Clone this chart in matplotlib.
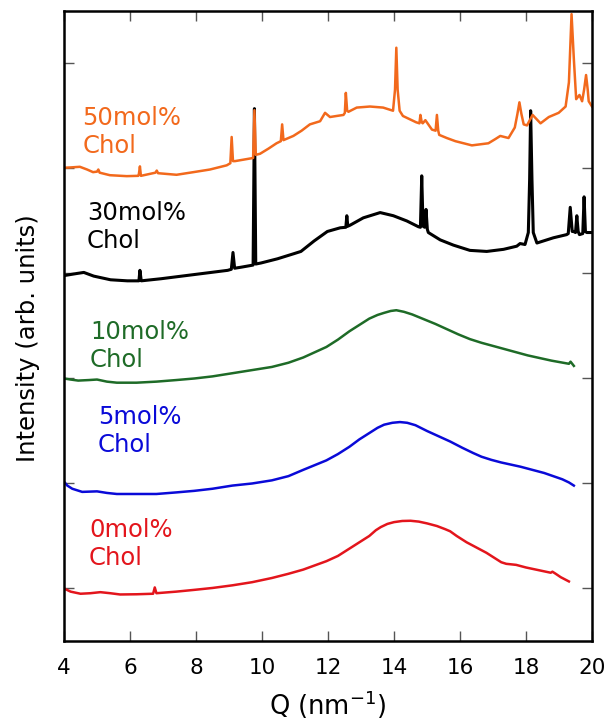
import matplotlib
matplotlib.use("Agg")
import matplotlib.pyplot as plt

# ---- data ----
q_0 = [4.0, 4.2, 4.5, 4.8, 5.1, 5.4, 5.7, 6.2, 6.7, 6.75, 6.8, 7.4, 7.95, 8.5, 9.1, 9.7,
       10.3, 10.8, 11.25, 11.6, 11.95, 12.3, 12.65, 12.95, 13.25, 13.45, 13.6, 13.8, 14.0,
       14.25, 14.5, 14.75, 15.0, 15.3, 15.55, 15.7, 15.9, 16.2, 16.5, 16.8, 17.1, 17.25,
       17.4, 17.7, 18.0, 18.3, 18.6, 18.75, 18.8, 18.9, 19.05, 19.3]
i_0 = [0.0, -0.03, -0.05, -0.045, -0.035, -0.045, -0.057, -0.055, -0.05, 0.01, -0.045,
       -0.03, -0.013, 0.005, 0.03, 0.06, 0.1, 0.14, 0.18, 0.22, 0.26, 0.31, 0.38, 0.44, 0.5,
       0.555, 0.585, 0.615, 0.632, 0.643, 0.645, 0.637, 0.62, 0.595, 0.565, 0.545, 0.5,
       0.44, 0.39, 0.34, 0.28, 0.25, 0.235, 0.225, 0.2, 0.18, 0.16, 0.15, 0.16, 0.14, 0.108,
       0.067]

q_5 = [4.02, 4.1, 4.25, 4.55, 5.0, 5.3, 5.6, 6.2, 6.8, 7.4, 7.95, 8.5, 9.1, 9.7, 10.3, 10.8,
       11.25, 11.6, 11.95, 12.3, 12.65, 12.95, 13.25, 13.5, 13.7, 13.95, 14.18, 14.4, 14.65,
       15.0, 15.35, 15.7, 16.07, 16.4, 16.65, 16.95, 17.25, 17.83, 18.55, 19.1, 19.3, 19.45]
i_5 = [1.01, 0.98, 0.95, 0.92, 0.925, 0.91, 0.90, 0.90, 0.90, 0.915, 0.93, 0.95, 0.98, 1.0,
       1.03, 1.07, 1.13, 1.175, 1.22, 1.28, 1.35, 1.42, 1.48, 1.53, 1.56, 1.578, 1.585,
       1.578, 1.555, 1.50, 1.45, 1.40, 1.34, 1.29, 1.255, 1.225, 1.2, 1.16, 1.10, 1.04,
       1.01, 0.98]

q_10 = [4.0, 4.2, 4.43, 4.75, 5.0, 5.3, 5.6, 6.2, 6.8, 7.4, 7.95, 8.5, 9.1, 9.7, 10.3, 10.8,
        11.25, 11.6, 11.95, 12.3, 12.65, 12.95, 13.25, 13.5, 13.7, 13.9, 14.07, 14.3, 14.55,
        14.9, 15.25, 15.6, 15.95, 16.3, 16.65, 17.0, 17.35, 18.05, 18.77, 19.3, 19.35, 19.45]
i_10 = [2.0, 1.99, 1.98, 1.985, 1.99, 1.97, 1.96, 1.96, 1.97, 1.985, 2.0, 2.02, 2.05, 2.08,
        2.11, 2.15, 2.2, 2.25, 2.3, 2.37, 2.45, 2.51, 2.57, 2.605, 2.625, 2.643, 2.65, 2.635,
        2.61, 2.565, 2.52, 2.47, 2.42, 2.375, 2.34, 2.31, 2.28, 2.22, 2.17, 2.14, 2.16, 2.12]

q_30 = [4.0, 4.39, 4.6, 4.9, 5.41, 5.92, 6.27, 6.3, 6.34, 6.94, 7.95, 8.96, 9.07, 9.12,
        9.17, 9.37, 9.73, 9.77, 9.81, 9.97, 10.47, 10.98, 11.18, 11.58, 11.98, 12.37, 12.54,
        12.57, 12.6, 12.67, 13.07, 13.58, 13.98, 14.39, 14.74, 14.8, 14.84, 14.88, 14.93,
        14.97, 15.01, 15.04, 15.4, 15.8, 16.3, 16.81, 17.32, 17.72, 17.82, 17.97, 18.07,
        18.11, 18.14, 18.18, 18.22, 18.33, 18.83, 19.23, 19.28, 19.34, 19.4, 19.44, 19.5,
        19.54, 19.58, 19.62, 19.72, 19.76, 19.8, 19.84, 20.0]
i_30 = [2.98, 3.0, 3.01, 2.975, 2.94, 2.93, 2.93, 3.03, 2.93, 2.95, 2.99, 3.03, 3.04, 3.2,
        3.05, 3.06, 3.08, 4.57, 3.09, 3.10, 3.14, 3.19, 3.21, 3.31, 3.40, 3.435, 3.44, 3.55,
        3.45, 3.46, 3.53, 3.58, 3.55, 3.50, 3.445, 3.44, 3.93, 3.45, 3.44, 3.61, 3.42, 3.39,
        3.32, 3.27, 3.22, 3.21, 3.23, 3.26, 3.285, 3.276, 3.39, 3.9, 4.55, 3.9, 3.39, 3.29,
        3.34, 3.37, 3.38, 3.63, 3.40, 3.40, 3.39, 3.55, 3.40, 3.37, 3.38, 3.73, 3.40, 3.39,
        3.39]

q_50 = [4.0, 4.2, 4.48, 4.7, 4.88, 5.0, 5.04, 5.08, 5.39, 5.9, 6.25, 6.27, 6.3, 6.33, 6.77,
        6.81, 6.85, 7.41, 7.92, 8.42, 8.93, 9.04, 9.08, 9.12, 9.18, 9.64, 9.73, 9.77, 9.81,
        9.94, 10.2, 10.44, 10.57, 10.61, 10.65, 10.95, 11.2, 11.45, 11.76, 11.91, 12.06, 12.26,
        12.47, 12.51, 12.54, 12.58, 12.62, 12.87, 13.27, 13.67, 13.97, 14.03, 14.07, 14.11,
        14.17, 14.27, 14.67, 14.77, 14.8, 14.84, 14.87, 14.95, 15.15, 15.26, 15.3, 15.34,
        15.37, 15.6, 15.86, 16.36, 16.86, 17.07, 17.22, 17.47, 17.66, 17.74, 17.8, 17.86,
        17.93, 18.03, 18.2, 18.44, 18.69, 18.99, 19.2, 19.3, 19.38, 19.45, 19.52, 19.62,
        19.7, 19.76, 19.82, 19.87, 19.9, 20.0]
i_50 = [4.007, 4.01, 4.016, 3.99, 3.965, 3.97, 3.99, 3.96, 3.936, 3.927, 3.93, 3.95, 4.02,
        3.93, 3.96, 3.98, 3.955, 3.94, 3.965, 3.99, 4.03, 4.05, 4.30, 4.07, 4.07, 4.095, 4.10,
        4.555, 4.13, 4.14, 4.19, 4.24, 4.26, 4.42, 4.27, 4.31, 4.36, 4.42, 4.45, 4.53, 4.49,
        4.50, 4.51, 4.53, 4.72, 4.55, 4.54, 4.58, 4.59, 4.58, 4.55, 4.75, 5.15, 4.75, 4.55,
        4.50, 4.44, 4.43, 4.51, 4.44, 4.43, 4.46, 4.37, 4.36, 4.51, 4.36, 4.32, 4.29, 4.26,
        4.22, 4.24, 4.28, 4.31, 4.29, 4.39, 4.52, 4.63, 4.52, 4.42, 4.41, 4.51, 4.43, 4.49,
        4.53, 4.59, 4.82, 5.47, 5.04, 4.66, 4.70, 4.64, 4.75, 4.89, 4.75, 4.64, 4.59]

series_labels = ["0mol%\nChol", "5mol%\nChol", "10mol%\nChol", "30mol%\nChol", "50mol%\nChol"]
label_x = [4.76, 5.02, 4.79, 4.69, 4.55]
label_y = [0.225, 1.30, 2.11, 3.24, 4.15]
colors = ["#e3151c", "#0a0ad8", "#1e6b27", "#000000", "#f2691c"]
x_ticks = [4, 6, 8, 10, 12, 14, 16, 18, 20]
y_ticks = [0, 1, 2, 3, 4, 5]

plt.rcParams['font.family'] = ['DejaVu Sans']

fig = plt.figure(figsize=(6.08, 7.22), dpi=100)
ax = fig.add_axes([0.1053, 0.1122, 0.8684, 0.8726])

qs = [q_0, q_5, q_10, q_30, q_50]
ints = [i_0, i_5, i_10, i_30, i_50]
widths = [1.8, 1.8, 1.8, 2.2, 1.8]
for q, inten, c, lw in zip(qs, ints, colors, widths):
    ax.plot(q, inten, color=c, lw=lw, solid_joinstyle='round')

for lab, lx, ly, c in zip(series_labels, label_x, label_y, colors):
    ax.text(lx, ly, lab, color=c, fontsize=17.5, ha='left', va='baseline', linespacing=1.2)

ax.set_xlim(4, 20)
ax.set_ylim(-0.5, 5.5)
ax.set_xticks(x_ticks)
ax.set_yticks(y_ticks)
ax.set_yticklabels([])
ax.tick_params(axis='both', direction='in', length=7, width=1.0, color='#555555',
               top=True, right=True, labelsize=15.5)
ax.tick_params(axis='x', pad=12)
for s in ax.spines.values():
    s.set_linewidth(1.8)
    s.set_color('black')

ax.set_xlabel("Q (nm$^{-1}$)", fontsize=18.5, va='baseline')
ax.xaxis.set_label_coords(0.5, -0.117)
ax.set_ylabel("Intensity (arb. units)", fontsize=17.5, va='center')
ax.yaxis.set_label_coords(-0.068, 0.48)

fig.savefig("out.png", dpi=100)
